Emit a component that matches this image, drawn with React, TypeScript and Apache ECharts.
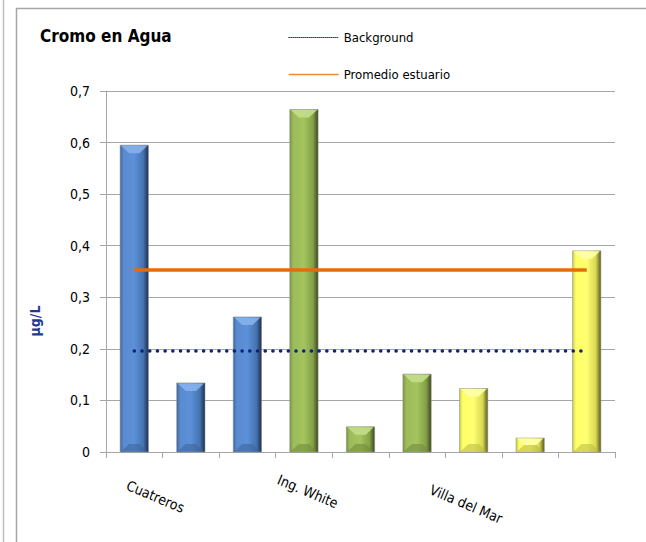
import React, { useEffect, useRef } from "react";
import * as echarts from "echarts";

// Sampling stations, three per site
const sites = [
  "Cuatreros", "Cuatreros", "Cuatreros",
  "Ing. White", "Ing. White", "Ing. White",
  "Villa del Mar", "Villa del Mar", "Villa del Mar",
];
// Chromium in water (µg/L) per sample
const cromo = [0.595, 0.134, 0.262, 0.664, 0.049, 0.151, 0.123, 0.027, 0.39];
// Reference levels
const backgroundLevel = 0.196;
const estuaryMean = 0.353;
const yTicks = [0, 0.1, 0.2, 0.3, 0.4, 0.5, 0.6, 0.7];

const FONT = "'DejaVu Sans Condensed', 'DejaVu Sans', sans-serif";

// Face colours for the bevelled bars: [left edge, light, mid, shade, right edge, top bevel, bottom bevel]
const siteFill: Record<string, string[]> = {
  Cuatreros: ["#3A669E", "#5A8BD0", "#5C90D8", "#4673B0", "#1B2E4E", "#86B2EC", "#3D6294"],
  "Ing. White": ["#7A9544", "#9BBC59", "#A3C45F", "#84A049", "#3A4A1B", "#C4DE8A", "#6F8838"],
  "Villa del Mar": ["#CFCF48", "#FFFF68", "#FFFF72", "#D8D852", "#5A5A20", "#FFFFA8", "#B8B840"],
};

// Per-site placement of the rotated axis labels (rich-text padding)
const labelPad: Record<string, number[]> = {
  Cuatreros: [0, 0, 0, 52],
  "Ing. White": [2, 0, 0, 16],
  "Villa del Mar": [18, 0, 0, 5],
};

const richKey = (s: string) => "s" + Object.keys(labelPad).indexOf(s);

const grad = (c: string[]) =>
  new echarts.graphic.LinearGradient(0, 0, 1, 0, [
    { offset: 0, color: c[0] },
    { offset: 0.12, color: c[1] },
    { offset: 0.5, color: c[2] },
    { offset: 0.82, color: c[3] },
    { offset: 1, color: c[4] },
  ]);

export default function App() {
  const ref = useRef<HTMLDivElement>(null);

  useEffect(() => {
    if (!ref.current) return;
    const chart = echarts.init(ref.current, undefined, { renderer: "svg" });

    const last = sites.length - 1;

    const rich: Record<string, any> = {};
    Object.keys(labelPad).forEach((s) => {
      rich[richKey(s)] = { padding: labelPad[s], fontFamily: FONT, fontSize: 14, color: "#000" };
    });

    const renderBar = (params: any, api: any) => {
      const i = api.value(0);
      const v = api.value(1);
      const top = api.coord([i, v]);
      const base = api.coord([i, 0]);
      const w = api.size([1, 0])[0] * 0.5;
      const x0 = top[0] - w / 2;
      const x1 = top[0] + w / 2;
      const y0 = top[1];
      const y1 = base[1];
      const h = y1 - y0;
      const b = Math.min(8, h / 2);
      const c = siteFill[sites[i]];
      return {
        type: "group",
        children: [
          {
            type: "rect",
            shape: { x: x0, y: y0, width: w, height: h },
            style: { fill: grad(c), stroke: "rgba(140,140,140,0.55)", lineWidth: 1 },
          },
          {
            type: "polygon",
            shape: { points: [[x0 + 1, y0 + 0.5], [x1 - 1, y0 + 0.5], [x1 - 1 - b, y0 + b], [x0 + 1 + b, y0 + b]] },
            style: { fill: c[5], opacity: 0.9 },
          },
          {
            type: "polygon",
            shape: { points: [[x0 + 1, y1 - 0.5], [x1 - 1, y1 - 0.5], [x1 - 1 - b, y1 - b], [x0 + 1 + b, y1 - b]] },
            style: { fill: c[6], opacity: 0.55 },
          },
        ],
      };
    };

    chart.setOption({
      animation: false,
      backgroundColor: "#ffffff",
      textStyle: { fontFamily: FONT },
      title: {
        text: "Cromo en Agua",
        left: 35,
        top: 22,
        textStyle: { fontFamily: FONT, fontSize: 17, fontWeight: "bold", color: "#000" },
      },
      legend: {
        left: 283,
        top: 26,
        orient: "vertical",
        itemWidth: 50,
        itemHeight: 14,
        itemGap: 24,
        textStyle: { fontFamily: FONT, fontSize: 13, color: "#000" },
        data: [
          {
            name: "Background",
            lineStyle: { width: 1, type: "dotted", color: "#1F3D8C" },
            itemStyle: { color: "rgba(0,0,0,0)", borderWidth: 0, opacity: 0 },
          },
          {
            name: "Promedio estuario",
            lineStyle: { width: 1.5, type: "solid", color: "#F28A30" },
            itemStyle: { color: "rgba(0,0,0,0)", borderWidth: 0, opacity: 0 },
          },
        ],
      },
      grid: { left: 106, right: 31, top: 91, bottom: 90 },
      xAxis: {
        type: "category",
        data: sites,
        boundaryGap: true,
        axisLine: { lineStyle: { color: "#A6A6A6", width: 1 } },
        axisTick: { show: true, interval: 0, length: 6, lineStyle: { color: "#A6A6A6" } },
        axisLabel: {
          interval: (i: number) => i % 3 === 0,
          rotate: -23,
          align: "center",
          verticalAlign: "top",
          margin: 28,
          fontFamily: FONT,
          fontSize: 14,
          color: "#000",
          formatter: (s: string) => `{${richKey(s)}|${s}}`,
          rich,
        },
        splitLine: { show: false },
      },
      yAxis: {
        type: "value",
        min: yTicks[0],
        max: yTicks[yTicks.length - 1],
        interval: 0.1,
        axisLine: { show: true, lineStyle: { color: "#A6A6A6", width: 1 } },
        axisTick: { show: true, length: 6, lineStyle: { color: "#A6A6A6" } },
        axisLabel: {
          margin: 16,
          fontFamily: FONT,
          fontSize: 14,
          color: "#000",
          formatter: (v: number) => String(Math.round(v * 10) / 10).replace(".", ","),
        },
        splitLine: { show: true, lineStyle: { color: "#A6A6A6", width: 1 } },
      },
      graphic: [
        { type: "line", shape: { x1: 3.5, y1: 0, x2: 3.5, y2: 542 }, style: { stroke: "#BDBDBD", lineWidth: 1.5 } },
        { type: "rect", shape: { x: 16.5, y: 8.5, width: 700, height: 600 }, style: { fill: "none", stroke: "#A6A6A6", lineWidth: 1.5 } },
        {
          type: "text",
          x: 35,
          y: 321,
          rotation: Math.PI / 2,
          style: {
            text: "µg/L",
            fontFamily: FONT,
            fontSize: 14,
            fontWeight: "bold",
            fill: "#1F3A93",
            align: "center",
            verticalAlign: "middle",
          },
        },
      ],
      series: [
        {
          name: "Cromo",
          type: "custom",
          renderItem: renderBar,
          encode: { x: 0, y: 1 },
          data: cromo.map((v, i) => [i, v]),
          z: 2,
        },
        {
          name: "Background",
          type: "line",
          symbol: "none",
          color: "#0A237A",
          data: [[0, backgroundLevel], [last, backgroundLevel]],
          lineStyle: { color: "#0A237A", width: 3.5, type: [0.1, 7.6], cap: "round" },
          z: 3,
        },
        {
          name: "Promedio estuario",
          type: "line",
          symbol: "none",
          color: "#E46C0A",
          data: [[0, estuaryMean], [last, estuaryMean]],
          lineStyle: { color: "#E46C0A", width: 3.5, type: "solid" },
          z: 3,
        },
      ],
    });

    return () => chart.dispose();
  }, []);

  return (
    <div
      ref={ref}
      style={{ position: "fixed", left: 0, top: 0, width: 646, height: 542 }}
    />
  );
}
